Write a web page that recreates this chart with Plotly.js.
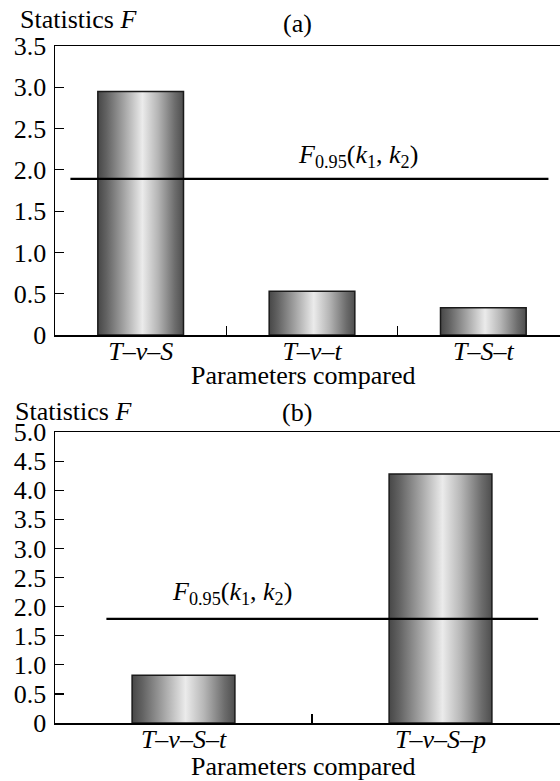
<!DOCTYPE html>
<html>
<head>
<meta charset="utf-8">
<script src="https://cdn.plot.ly/plotly-3.0.1.min.js"></script>
<style>
html, body { margin:0; padding:0; overflow:hidden; background:#fff; }
#chart { width:570px; height:781px; }
#chart svg text { font-family: 'Liberation Serif', 'Times New Roman', serif !important; }
</style>
</head>
<body>
<div id="chart"></div>
<script>
// ---- data ----
const catsA = ['T–v–S', 'T–v–t', 'T–S–t'];
const valsA = [2.95, 0.53, 0.33];
const critA = [1.89];

const catsB = ['T–v–S–t', 'T–v–S–p'];
const valsB = [0.82, 4.28];
const critB = [1.79];

const tickValsA = [0, 0.5, 1.0, 1.5, 2.0, 2.5, 3.0, 3.5];
const tickTextA = ['0', '0.5', '1.0', '1.5', '2.0', '2.5', '3.0', '3.5'];
const tickValsB = [0, 0.5, 1.0, 1.5, 2.0, 2.5, 3.0, 3.5, 4.0, 4.5, 5.0];
const tickTextB = ['0', '0.5', '1.0', '1.5', '2.0', '2.5', '3.0', '3.5', '4.0', '4.5', '5.0'];

const yLabel = 'Statistics <i>F</i>';
const xLabel = 'Parameters compared';
const panelA = '(a)';
const panelB = '(b)';
const critLabel = '<i>F</i><sub>0.95</sub>(<i>k</i><sub>1</sub>, <i>k</i><sub>2</sub>)';

// ---- geometry helpers (pixel -> paper) ----
const W = 570, H = 781, ML = 55, MR = 1, MT = 46, MB = 58;
const PW = W - ML - MR, PH = H - MT - MB;
const px = x => (x - ML) / PW;
const py = y => (H - MB - y) / PH;

const FONT = 'Liberation Serif';
const FS = 26;

const barLine = { color: '#1a1a1a', width: 1.5 };

const traces = [
  { type: 'bar', x: catsA, y: valsA, xaxis: 'x', yaxis: 'y', width: 0.5,
    marker: { color: '#aaaaaa', line: barLine }, hoverinfo: 'skip' },
  { type: 'bar', x: catsB, y: valsB, xaxis: 'x2', yaxis: 'y2', width: 0.4,
    marker: { color: '#aaaaaa', line: barLine }, hoverinfo: 'skip' }
];

const xCommon = {
  type: 'category', tickson: 'boundaries', ticks: 'inside', ticklen: 9, tickwidth: 1.2,
  tickcolor: '#000', showline: true, linecolor: '#000', linewidth: 1.5, mirror: true,
  showgrid: false, zeroline: false, ticklabelstandoff: -8,
  tickfont: { family: FONT, size: FS, color: '#000', style: 'italic' }
};
const yCommon = {
  ticks: 'inside', ticklen: 9, tickwidth: 1.2, tickcolor: '#000',
  showline: true, linecolor: '#000', linewidth: 1.5, mirror: 'ticks',
  showgrid: false, zeroline: false, tickmode: 'array', ticklabelstandoff: 2,
  tickfont: { family: FONT, size: FS, color: '#000' }
};

const layout = {
  width: W, height: H,
  margin: { l: ML, r: MR, t: MT, b: MB },
  paper_bgcolor: '#fff', plot_bgcolor: '#fff',
  showlegend: false,
  font: { family: FONT, size: FS, color: '#000' },
  xaxis: Object.assign({}, xCommon, { domain: [0, 1], anchor: 'y', range: [-0.5, 2.5] }),
  yaxis: Object.assign({}, yCommon, { domain: [py(335), py(46)], anchor: 'x', range: [0, 3.5],
    tickvals: tickValsA, ticktext: tickTextA }),
  xaxis2: Object.assign({}, xCommon, { domain: [0, 1], anchor: 'y2', range: [-0.5, 1.5] }),
  yaxis2: Object.assign({}, yCommon, { domain: [py(723), py(432)], anchor: 'x2', range: [0, 5],
    tickvals: tickValsB, ticktext: tickTextB }),
  shapes: [
    { type: 'line', xref: 'x', yref: 'y', x0: -0.41, x1: 2.38, y0: critA[0], y1: critA[0],
      line: { color: '#000', width: 2.2 } },
    { type: 'line', xref: 'x2', yref: 'y2', x0: -0.30, x1: 1.38, y0: critB[0], y1: critB[0],
      line: { color: '#000', width: 2.2 } }
  ],
  annotations: [
    { text: yLabel, xref: 'paper', yref: 'paper', x: px(18), y: py(20), xanchor: 'left', yanchor: 'middle', showarrow: false },
    { text: panelA, xref: 'paper', yref: 'paper', x: px(297), y: py(24), xanchor: 'center', yanchor: 'middle', showarrow: false },
    { text: critLabel, xref: 'x', yref: 'y', x: 1.27, y: critA[0], xanchor: 'center', yanchor: 'bottom', yshift: 5, showarrow: false },
    { text: xLabel, xref: 'paper', yref: 'paper', x: px(303), y: py(375), xanchor: 'center', yanchor: 'middle', showarrow: false },
    { text: yLabel, xref: 'paper', yref: 'paper', x: px(13), y: py(411), xanchor: 'left', yanchor: 'middle', showarrow: false },
    { text: panelB, xref: 'paper', yref: 'paper', x: px(297), y: py(412), xanchor: 'center', yanchor: 'middle', showarrow: false },
    { text: critLabel, xref: 'x2', yref: 'y2', x: 0.19, y: critB[0], xanchor: 'center', yanchor: 'bottom', yshift: 8, showarrow: false },
    { text: xLabel, xref: 'paper', yref: 'paper', x: px(303), y: py(766), xanchor: 'center', yanchor: 'middle', showarrow: false }
  ]
};

function applyGradient(gd) {
  const svg = gd.querySelector('svg.main-svg');
  if (!svg) return;
  let defs = svg.querySelector('defs');
  if (!defs) { defs = document.createElementNS('http://www.w3.org/2000/svg', 'defs'); svg.insertBefore(defs, svg.firstChild); }
  if (!svg.querySelector('#barGrad')) {
    const g = document.createElementNS('http://www.w3.org/2000/svg', 'linearGradient');
    g.setAttribute('id', 'barGrad');
    g.setAttribute('x1', '0'); g.setAttribute('x2', '1'); g.setAttribute('y1', '0'); g.setAttribute('y2', '0');
    const stops = [[0, '#474747'], [0.1, '#626262'], [0.3, '#a2a2a2'], [0.52, '#ebebeb'], [0.7, '#b6b6b6'], [0.9, '#6c6c6c'], [1, '#4e4e4e']];
    stops.forEach(s => {
      const st = document.createElementNS('http://www.w3.org/2000/svg', 'stop');
      st.setAttribute('offset', s[0]); st.setAttribute('stop-color', s[1]);
      g.appendChild(st);
    });
    defs.appendChild(g);
  }
  gd.querySelectorAll('.barlayer .point path').forEach(p => { p.style.fill = 'url(#barGrad)'; });
}

const gd = document.getElementById('chart');
Plotly.newPlot(gd, traces, layout, { staticPlot: true, displayModeBar: false }).then(() => {
  applyGradient(gd);
  if (document.fonts && document.fonts.ready) {
    document.fonts.ready.then(() => Plotly.react(gd, traces, layout, { staticPlot: true, displayModeBar: false }))
      .then(() => applyGradient(gd));
  }
});
</script>
</body>
</html>
